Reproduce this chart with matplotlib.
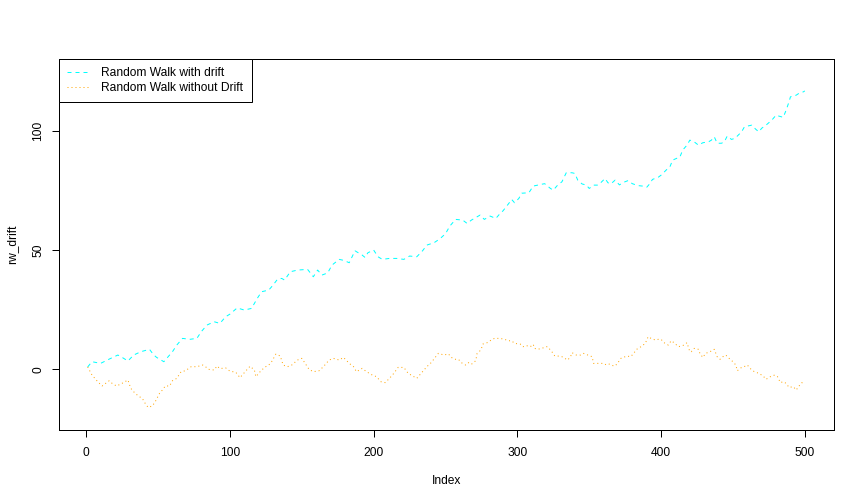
import matplotlib
matplotlib.use("Agg")
import matplotlib.pyplot as plt

# values (index, value)
drift_idx = [1, 4, 10, 16, 22, 25, 29, 33, 38, 44, 47, 49, 54, 56, 60, 63, 67, 72, 77, 80,
             84, 89, 93, 97, 100, 105, 110, 115, 119, 122, 127, 130, 133, 136, 138, 142, 147, 154, 158, 161,
             164, 168, 171, 176, 179, 183, 185, 187, 192, 194, 196, 200, 203, 206, 211, 216, 221, 225, 230, 234,
             237, 242, 246, 250, 253, 257, 262, 265, 268, 272, 274, 277, 281, 285, 288, 290, 294, 296, 298, 301,
             303, 308, 311, 314, 318, 319, 323, 325, 328, 331, 334, 338, 340, 342, 345, 348, 350, 353, 356, 358,
             361, 363, 365, 368, 371, 374, 377, 380, 384, 387, 390, 392, 394, 398, 400, 404, 406, 408, 411, 413,
             415, 418, 420, 423, 426, 429, 433, 435, 437, 439, 442, 444, 446, 449, 451, 453, 456, 458, 460, 463,
             466, 468, 470, 473, 477, 480, 482, 485, 487, 489, 490, 494, 496, 499, 500]
rw_drift = [1.0, 3.2, 2.5, 4.3, 6.0, 5.0, 3.5, 6.0, 7.4, 8.4, 6.0, 5.0, 3.2, 4.6, 7.4, 10.2, 13.0, 12.6, 13.0, 15.8,
            18.6, 20.0, 19.3, 22.1, 23.2, 25.8, 24.9, 25.6, 29.8, 32.6, 33.3, 35.4, 37.8, 38.2, 37.5, 41.0, 41.7, 42.0, 38.9, 41.7,
            39.6, 40.5, 43.8, 46.2, 45.8, 44.8, 47.3, 49.8, 48.0, 47.0, 49.0, 50.1, 47.3, 46.2, 46.6, 46.6, 46.2, 47.6, 47.3, 49.8,
            52.2, 53.2, 54.8, 57.0, 60.2, 63.0, 62.7, 61.3, 62.7, 64.1, 64.8, 63.0, 64.4, 63.4, 65.5, 66.6, 69.7, 71.4, 70.0, 71.8,
            74.0, 74.2, 77.0, 77.4, 77.9, 78.0, 76.0, 75.3, 77.4, 78.8, 82.6, 82.6, 82.3, 79.5, 77.9, 77.4, 76.0, 77.4, 77.4, 78.4,
            80.2, 78.4, 77.9, 79.5, 77.5, 78.6, 79.3, 78.0, 77.2, 77.0, 76.5, 77.9, 79.8, 80.7, 81.6, 84.0, 84.9, 87.9, 88.7, 89.1,
            92.1, 94.2, 96.3, 95.6, 94.2, 95.2, 95.6, 96.3, 97.7, 95.0, 95.0, 95.6, 98.0, 96.6, 97.0, 98.0, 99.8, 101.9, 102.2, 102.6,
            100.8, 99.8, 101.3, 102.6, 104.7, 106.8, 106.4, 105.9, 108.9, 112.4, 114.5, 115.2, 116.0, 116.6, 117.0]

nodrift_idx = [1, 4, 8, 11, 16, 18, 21, 24, 27, 29, 31, 34, 37, 39, 41, 43, 46, 48, 51, 53,
               55, 58, 60, 63, 66, 69, 73, 77, 81, 83, 85, 89, 91, 93, 97, 100, 104, 107, 111, 114,
               117, 118, 121, 124, 127, 129, 132, 135, 137, 140, 143, 147, 150, 152, 155, 158, 162, 165, 169, 172,
               176, 179, 183, 186, 188, 192, 195, 199, 202, 205, 208, 211, 214, 217, 221, 224, 228, 230, 234, 237,
               240, 245, 249, 252, 254, 257, 259, 261, 264, 266, 268, 271, 272, 274, 275, 276, 279, 281, 284, 288,
               291, 294, 296, 298, 302, 304, 306, 309, 311, 312, 314, 317, 320, 321, 324, 326, 328, 331, 333, 335,
               337, 338, 341, 344, 346, 349, 352, 353, 356, 360, 362, 364, 367, 368, 370, 372, 374, 376, 379, 381,
               383, 386, 389, 391, 393, 396, 398, 400, 402, 405, 407, 409, 412, 414, 416, 418, 420, 421, 423, 426,
               427, 429, 431, 434, 437, 439, 441, 443, 445, 448, 450, 452, 453, 456, 459, 460, 463, 465, 468, 471,
               473, 476, 479, 481, 483, 485, 487, 489, 492, 494, 496, 498, 500]
rw_nodrift = [1.0, -2.4, -5.2, -7.0, -4.8, -5.9, -7.0, -6.2, -5.2, -4.5, -8.0, -10.1, -11.5, -12.2, -14.3, -16.0, -15.4, -13.6, -10.1, -8.7,
              -7.0, -7.0, -4.8, -3.8, -1.0, -0.6, 1.1, 1.1, 1.8, 1.1, 0.0, -0.3, 1.4, 0.3, 0.6, -0.8, -1.2, -3.5, -0.7, 1.3,
              -0.3, -3.1, -1.0, 0.8, 1.8, 3.2, 6.4, 5.6, 1.8, 1.1, 1.8, 3.9, 4.6, 2.8, 0.0, -1.0, -0.6, 1.1, 3.9, 4.6,
              3.9, 5.0, 2.5, 1.1, -1.0, 0.4, -1.0, -2.4, -3.1, -5.2, -5.6, -3.8, -1.7, 0.8, 0.8, -1.7, -3.1, -3.8, -1.0, 1.1,
              2.8, 6.7, 6.0, 6.5, 5.0, 4.2, 4.2, 2.8, 1.8, 2.8, 2.1, 3.6, 6.7, 7.8, 8.8, 10.6, 11.2, 12.0, 13.0, 13.0,
              12.6, 12.0, 12.0, 10.9, 10.6, 9.5, 10.0, 9.5, 10.5, 8.8, 8.4, 8.8, 9.5, 9.5, 7.4, 5.6, 5.6, 5.3, 4.6, 3.9,
              5.3, 7.0, 6.0, 6.0, 6.7, 6.0, 5.3, 2.5, 2.5, 2.5, 1.8, 2.2, 1.4, 1.4, 2.8, 4.6, 5.1, 5.5, 5.4, 6.8,
              8.4, 9.5, 10.9, 13.7, 13.0, 12.3, 12.6, 12.6, 11.2, 10.2, 12.0, 11.2, 9.5, 9.8, 10.2, 11.2, 7.4, 7.4, 8.8, 8.4,
              6.7, 5.0, 6.7, 7.4, 8.4, 5.3, 4.2, 5.3, 6.0, 4.2, 3.2, 1.8, -0.6, 0.8, 1.4, 1.8, -0.3, -1.0, -1.7, -2.8,
              -4.2, -3.1, -2.4, -3.1, -5.6, -5.2, -5.9, -7.6, -7.3, -8.7, -7.0, -5.6, -6.2]

x_ticks = [0, 100, 200, 300, 400, 500]
y_ticks = [0, 50, 100]

PX = 0.72  # one pixel in points at dpi 100
FS = 12 * PX

plt.rcParams["font.family"] = ["Liberation Sans", "DejaVu Sans"]
plt.rcParams["font.size"] = FS

fig = plt.figure(figsize=(8.64, 5.04), dpi=100)
ax = fig.add_axes([59 / 864, 1 - 430 / 504, (833.5 - 59) / 864, (430 - 59) / 504])

ax.plot(drift_idx, rw_drift, color="#00FFFF", lw=PX, dashes=(4, 4), label="Random Walk with drift")
ax.plot(nodrift_idx, rw_nodrift, color="#FFA500", lw=PX, dashes=(1, 3), label="Random Walk without Drift")

ax.set_xlim(-18.96, 519.96)
ax.set_ylim(-25.5, 130.4)
ax.set_xticks(x_ticks)
ax.set_yticks(y_ticks)
ax.tick_params(length=7.2 * PX, width=PX, color="black", labelsize=FS)
ax.tick_params(axis="x", pad=6.8)
ax.tick_params(axis="y", pad=5.3)
for lab in ax.get_yticklabels():
    lab.set_rotation(90)
    lab.set_va("center")
for s in ax.spines.values():
    s.set_linewidth(PX)
    s.set_color("black")

ax.set_xlabel("Index")
ax.set_ylabel("rw_drift")
ax.xaxis.set_label_coords(0.5, (430 - 475) / 371)
ax.yaxis.set_label_coords((18 - 59) / 774.5, 0.5)

leg = ax.legend(loc="upper left", bbox_to_anchor=(0, 1), borderaxespad=0, fancybox=False,
                edgecolor="black", framealpha=1, fontsize=FS, handlelength=1.83,
                handletextpad=1.0, borderpad=0.7, labelspacing=0.2)
leg.get_frame().set_linewidth(PX)

fig.savefig("out.png", dpi=100)
